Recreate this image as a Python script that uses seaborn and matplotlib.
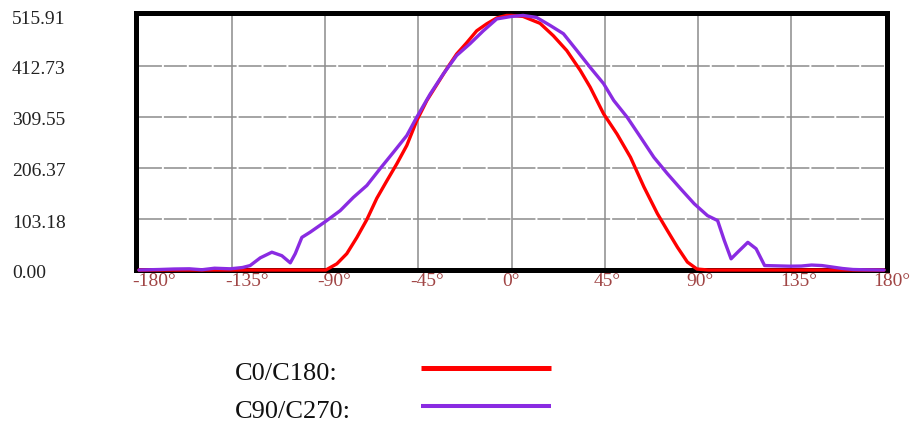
import pandas as pd
import matplotlib.pyplot as plt
import matplotlib.transforms as mtransforms
from matplotlib.lines import Line2D
from matplotlib.patches import Rectangle
import seaborn as sns

# Values (angle in degrees, intensity)
angles_c0 = [-180, -150, -120, -95, -89.7, -84.4, -79.6, -74.7, -69.9, -65.1, -60.3,
             -55.4, -50.6, -45.8, -40.9, -36.1, -31.3, -26.5, -21.6, -16.8, -12, -7.1,
             -2.3, 0, 5.6, 13.8, 20.2, 26.7, 33.2, 38, 44.5, 51, 57.5, 64, 70.5, 75.3,
             80.2, 85, 89.6, 95, 120, 150, 180]
values_c0 = [0, 0, 0, 0, 0, 12.5, 33, 66, 102, 145, 180,
             215, 252, 302, 343, 375, 407, 437, 460, 484, 498, 510,
             515, 515, 513, 499, 474, 444, 404, 370, 316, 275, 228, 168, 114, 80,
             46, 16, 2, 0, 0, 0, 0]

angles_c90 = [-180, -170, -163, -155.7, -149.6, -143.5, -135.9, -130, -126.3, -121.4,
              -115.8, -111, -106.9, -104.5, -101.3, -97.3, -89.7, -82.8, -76.4, -69.9,
              -63.5, -57.1, -50.6, -45.8, -39.3, -32.9, -26.5, -20, -13.6, -7.1, 0,
              5.6, 12.1, 18.6, 25.1, 31.6, 38, 44.5, 49.4, 55.9, 62.3, 68.8, 75.3,
              81.8, 88.3, 94.7, 99.6, 102.8, 106.1, 109.3, 114.2, 118.2, 122.3, 134.4,
              140, 145, 150, 155, 160, 165, 170, 180]
values_c90 = [0, 1, 2, 2.4, 0.5, 3.6, 2.4, 5, 9, 24.6,
              36, 29, 14.5, 33, 66, 76.5, 98.7, 120, 147, 171,
              205, 238, 272, 309, 356, 397, 434, 458, 484, 508, 513,
              515, 511, 495, 478, 444, 410, 377, 343, 309, 269, 228, 195,
              164, 134, 110, 100, 60, 22.6, 36, 56, 43, 9, 7.7,
              8, 10, 9, 6, 3, 1, 0.5, 0]

series_names = ['C0/C180:', 'C90/C270:']
series_colors = ['#ff0000', '#8a2be2']
y_ticks = [0.00, 103.18, 206.37, 309.55, 412.73, 515.91]
x_ticks = [-180, -135, -90, -45, 0, 45, 90, 135, 180]

df = pd.concat([
    pd.DataFrame({'angle': angles_c0, 'value': values_c0, 'series': series_names[0]}),
    pd.DataFrame({'angle': angles_c90, 'value': values_c90, 'series': series_names[1]}),
])

sns.set_style('white')
plt.rcParams['font.family'] = ['Liberation Serif', 'DejaVu Serif']

W, H = 911, 425
fig = plt.figure(figsize=(W / 100, H / 100), dpi=100)
ax = fig.add_axes([139 / W, 1 - 270 / H, 745 / W, 255 / H])

sns.lineplot(data=df, x='angle', y='value', hue='series', palette=series_colors,
             linewidth=2.4, ax=ax, legend=False, zorder=3, sort=True)
for ln in ax.lines:
    ln.set_clip_on(False)
    ln.set_solid_joinstyle('round')

ax.set_xlim(-180, 180)
ax.set_ylim(0, 515.91)
ax.set_xlabel('')
ax.set_ylabel('')

# grid: solid verticals, broken horizontals
for xt in x_ticks[1:-1]:
    ax.axvline(xt, color='#8c8c8c', linewidth=1.1, zorder=1)
for yt in y_ticks[1:-1]:
    ax.axhline(yt, color='#8c8c8c', linewidth=1.1, linestyle=(0, (15, 1.3)), zorder=1)

# thick black frame just outside the plotting area, below the curves
for side in ax.spines.values():
    side.set_visible(False)
frame = Rectangle((135.5 / W, 1 - 270 / H), 751 / W, 257.5 / H, fill=False,
                  edgecolor='black', linewidth=3.6, joinstyle='miter',
                  transform=fig.transFigure, clip_on=False, zorder=2.5)
ax.add_patch(frame)
ax.set_xlim(-180, 180)
ax.set_ylim(0, 515.91)

# y labels, left aligned at the figure edge
ax.set_yticks(y_ticks)
ax.set_yticklabels([f'{v:.2f}' for v in y_ticks], fontsize=14, color='#222222')
ax.tick_params(axis='y', length=0, pad=127 * 0.72)
for lab in ax.get_yticklabels():
    lab.set_horizontalalignment('left')
    lab.set_transform(lab.get_transform() + mtransforms.ScaledTranslation(0, -2 / 100, fig.dpi_scale_trans))

# x labels, dark red, starting just left of the grid line
ax.set_xticks(x_ticks)
ax.set_xticklabels([f'{v}°' for v in x_ticks], fontsize=14, color='#a04545')
ax.tick_params(axis='x', length=0, pad=2.5)
offsets = [-7, -7, -8, -8, -9, -11, -11, -11, -11]
for lab, dx in zip(ax.get_xticklabels(), offsets):
    lab.set_horizontalalignment('left')
    lab.set_transform(lab.get_transform() + mtransforms.ScaledTranslation(dx / 100, 0, fig.dpi_scale_trans))

# legend below the chart
text_base = [380, 418]
line_y = [368, 406]
line_w = [3.6, 2.9]
for name, color, tb, ly, lw in zip(series_names, series_colors, text_base, line_y, line_w):
    fig.text(235 / W, 1 - tb / H, name, fontsize=19, color='#111111', va='baseline', ha='left')
    fig.add_artist(Line2D([421 / W, 551 / W], [1 - ly / H, 1 - ly / H], color=color,
                          linewidth=lw, solid_capstyle='butt', transform=fig.transFigure))

fig.savefig('out.png', dpi=100)
